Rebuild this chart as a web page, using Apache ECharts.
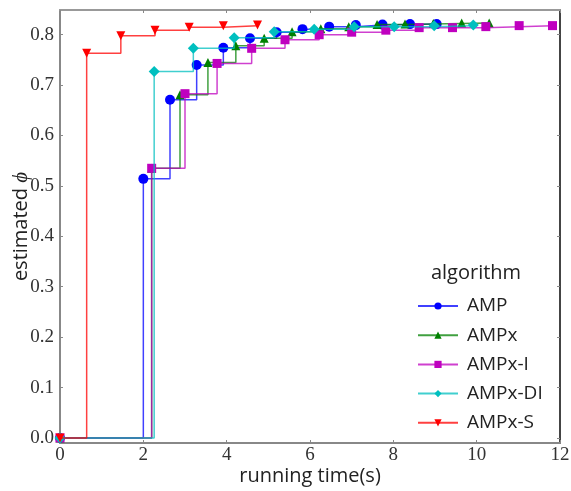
<!DOCTYPE html>
<html><head><meta charset="utf-8">
<script src="https://cdn.jsdelivr.net/npm/echarts@6/dist/echarts.min.js"></script>
<style>html,body{margin:0;padding:0;background:#fff}#c{width:571px;height:491px}</style>
</head><body><div id="c"></div>
<script>
// ---- data ----
const seriesNames = ['AMP', 'AMPx', 'AMPx-I', 'AMPx-DI', 'AMPx-S'];
const ampT   = [0, 2.00, 2.64, 3.28, 3.92, 4.56, 5.20, 5.82, 6.46, 7.10, 7.74, 8.40, 9.04];
const ampPhi = [0, 0.514, 0.671, 0.740, 0.774, 0.793, 0.805, 0.811, 0.816, 0.819, 0.820, 0.821, 0.821];
const ampxT   = [0, 2.20, 2.88, 3.55, 4.22, 4.90, 5.57, 6.26, 6.93, 7.61, 8.28, 8.96, 9.64, 10.30];
const ampxPhi = [0, 0.535, 0.681, 0.745, 0.778, 0.793, 0.806, 0.812, 0.816, 0.820, 0.821, 0.822, 0.823, 0.823];
const ampxIT   = [0, 2.20, 3.00, 3.77, 4.60, 5.40, 6.22, 7.00, 7.82, 8.62, 9.42, 10.22, 11.02, 11.82];
const ampxIPhi = [0, 0.535, 0.683, 0.743, 0.773, 0.790, 0.800, 0.805, 0.809, 0.814, 0.814, 0.816, 0.818, 0.818];
const ampxDIT   = [0, 2.26, 3.20, 4.18, 5.14, 6.10, 7.06, 8.02, 8.98, 9.92];
const ampxDIPhi = [0, 0.727, 0.773, 0.794, 0.806, 0.811, 0.816, 0.816, 0.818, 0.819];
const ampxST   = [0, 0.64, 1.46, 2.28, 3.10, 3.92, 4.74];
const ampxSPhi = [0, 0.763, 0.798, 0.809, 0.815, 0.818, 0.819];
const xTicks = [0, 2, 4, 6, 8, 10, 12];
const yTicks = [0.0, 0.1, 0.2, 0.3, 0.4, 0.5, 0.6, 0.7, 0.8];

const pairs = (t, p) => t.map((v, i) => [v, p[i]]);
const seriesData = [pairs(ampT, ampPhi), pairs(ampxT, ampxPhi), pairs(ampxIT, ampxIPhi), pairs(ampxDIT, ampxDIPhi), pairs(ampxST, ampxSPhi)];
const colors = ['#0000ff', '#008000', '#bf00bf', '#00bfbf', '#ff0000'];
const symbols = ['circle', 'triangle', 'rect', 'diamond', 'triangle'];
const symbolSizes = [10, 9, 9, 11, 9];
const rotates = [0, 0, 0, 0, 180];

const chart = echarts.init(document.getElementById('c'), null, {renderer: 'canvas'});
const tickFont = {fontFamily: 'Liberation Serif', fontSize: 19, color: '#333'};
const sans = 'Open Sans';

const option = {
  animation: false,
  backgroundColor: '#fff',
  grid: {left: 60, right: 11, top: 10, bottom: 48, containLabel: false, outerBoundsMode: 'none'},
  xAxis: [{
    type: 'value', min: 0, max: 12, interval: 2,
    name: 'running time(s)', nameLocation: 'middle', nameGap: 23, nameMoveOverlap: false,
    nameTextStyle: {fontFamily: sans, fontSize: 20, color: '#222'},
    axisLine: {show: true, onZero: false, lineStyle: {color: '#888', width: 2}},
    axisTick: {show: true, inside: true, length: 3, lineStyle: {color: '#888'}},
    axisLabel: {margin: 3, ...tickFont, formatter: v => String(v)},
    splitLine: {show: false}
  }, {
    type: 'value', min: 0, max: 12, interval: 2, position: 'top',
    axisLine: {show: true, onZero: false, lineStyle: {color: '#999', width: 2}},
    axisTick: {show: true, inside: true, length: 3, lineStyle: {color: '#888'}},
    axisLabel: {show: false}, splitLine: {show: false}
  }],
  yAxis: [{
    type: 'value', min: -0.01, max: 0.849,
    name: '{a|estimated }{b|ϕ}', nameLocation: 'middle', nameGap: 28, nameRotate: 90, nameMoveOverlap: false,
    nameTextStyle: {rich: {
      a: {fontFamily: sans, fontSize: 20, color: '#222'},
      b: {fontFamily: 'Liberation Serif', fontStyle: 'italic', fontSize: 21, color: '#222'}
    }},
    axisLine: {show: true, onZero: false, lineStyle: {color: '#888', width: 2}},
    axisTick: {show: true, inside: true, length: 3, lineStyle: {color: '#888'}, customValues: yTicks},
    axisLabel: {margin: 6, ...tickFont, customValues: yTicks, formatter: v => v.toFixed(1)},
    splitLine: {show: false}
  }, {
    type: 'value', min: -0.01, max: 0.849, position: 'right',
    axisLine: {show: true, onZero: false, lineStyle: {color: '#444', width: 2}},
    axisTick: {show: true, inside: true, length: 3, lineStyle: {color: '#888'}, customValues: yTicks},
    axisLabel: {show: false}, splitLine: {show: false}
  }],
  legend: {
    orient: 'vertical', left: 412, top: 291.5,
    itemWidth: 40, itemHeight: 9, itemGap: 10.2,
    data: seriesNames,
    textStyle: {fontFamily: sans, fontSize: 19, color: '#222', padding: [0, 0, 0, 4]}
  },
  graphic: [{
    type: 'text', x: 476, y: 273,
    style: {text: 'algorithm', fontFamily: sans, fontSize: 20, fill: '#222', textAlign: 'center', textVerticalAlign: 'middle'}
  }],
  series: seriesNames.map((n, i) => ({
    name: n, type: 'line', step: 'end', data: seriesData[i],
    xAxisIndex: 0, yAxisIndex: 0,
    symbol: symbols[i], symbolSize: symbolSizes[i], symbolRotate: rotates[i],
    showSymbol: true, showAllSymbol: true,
    itemStyle: {color: colors[i], opacity: 1},
    lineStyle: {color: colors[i], width: 1.5, opacity: 0.75},
    emphasis: {disabled: true},
    z: 2 + i
  }))
};
chart.setOption(option);
</script></body></html>
